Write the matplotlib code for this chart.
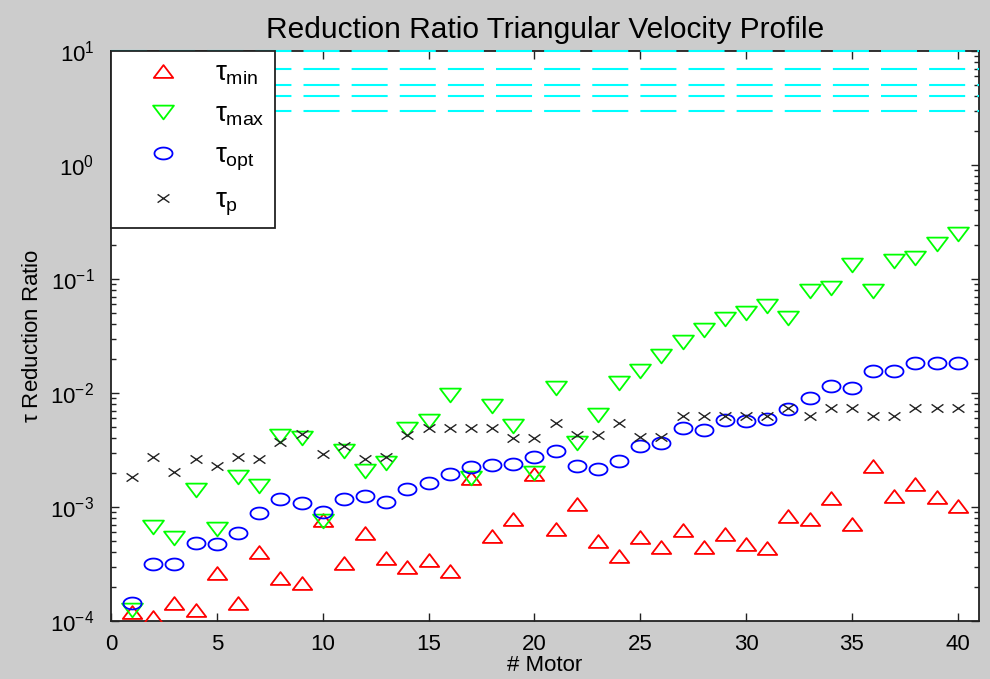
import numpy as np
import matplotlib
matplotlib.use("Agg")
import matplotlib.pyplot as plt
from matplotlib.path import Path

motor = np.arange(1, 41)

tau_min = [1.19e-4, 1.09e-4, 1.43e-4, 1.25e-4, 2.62e-4, 1.43e-4, 4.06e-4, 2.37e-4, 2.14e-4, 7.7e-4,
           3.2e-4, 5.9e-4, 3.6e-4, 2.96e-4, 3.44e-4, 2.77e-4, 1.8e-3, 5.58e-4, 7.8e-4, 1.96e-3,
           6.4e-4, 1.07e-3, 5.08e-4, 3.72e-4, 5.44e-4, 4.5e-4, 6.3e-4, 4.5e-4, 5.78e-4, 4.72e-4,
           4.35e-4, 8.37e-4, 7.83e-4, 1.21e-3, 7.12e-4, 2.27e-3, 1.25e-3, 1.59e-3, 1.22e-3, 1.03e-3]

tau_max = [1.25e-4, 6.7e-4, 5.3e-4, 1.42e-3, 6.4e-4, 1.85e-3, 1.54e-3, 4.2e-3, 4.03e-3, 7.6e-4,
           3.12e-3, 2.05e-3, 2.43e-3, 4.84e-3, 5.64e-3, 9.7e-3, 1.8e-3, 7.64e-3, 5.1e-3, 1.99e-3,
           1.11e-2, 3.65e-3, 6.46e-3, 1.23e-2, 1.55e-2, 2.1e-2, 2.79e-2, 3.6e-2, 4.42e-2, 5.06e-2,
           5.78e-2, 4.57e-2, 7.83e-2, 8.38e-2, 0.132, 7.83e-2, 0.144, 0.154, 0.201, 0.247]

tau_opt = [1.45e-4, 3.15e-4, 3.15e-4, 4.88e-4, 4.72e-4, 5.97e-4, 8.95e-4, 1.17e-3, 1.08e-3, 9.1e-4,
           1.17e-3, 1.25e-3, 1.1e-3, 1.44e-3, 1.62e-3, 1.95e-3, 2.24e-3, 2.35e-3, 2.37e-3, 2.72e-3,
           3.12e-3, 2.3e-3, 2.15e-3, 2.55e-3, 3.45e-3, 3.65e-3, 4.93e-3, 4.77e-3, 5.83e-3, 5.64e-3,
           5.92e-3, 7.25e-3, 9.06e-3, 1.16e-2, 1.11e-2, 1.55e-2, 1.55e-2, 1.84e-2, 1.84e-2, 1.84e-2]

tau_p = [1.82e-3, 2.72e-3, 2.01e-3, 2.63e-3, 2.3e-3, 2.72e-3, 2.63e-3, 3.69e-3, 4.37e-3, 2.92e-3,
         3.45e-3, 2.63e-3, 2.72e-3, 4.31e-3, 4.93e-3, 4.93e-3, 4.93e-3, 4.93e-3, 4.03e-3, 4.03e-3,
         5.46e-3, 4.31e-3, 4.31e-3, 5.46e-3, 4.08e-3, 4.08e-3, 6.24e-3, 6.24e-3, 6.3e-3, 6.24e-3,
         6.24e-3, 7.4e-3, 6.24e-3, 7.4e-3, 7.4e-3, 6.24e-3, 6.24e-3, 7.4e-3, 7.4e-3, 7.4e-3]

# horizontal reference levels drawn dashed at the top
levels = [3, 4, 5, 7, 10]

plt.rcParams['font.family'] = ['Liberation Sans', 'DejaVu Sans']
plt.rcParams['mathtext.fontset'] = 'custom'
plt.rcParams['mathtext.rm'] = 'Liberation Sans'
plt.rcParams['mathtext.it'] = 'Liberation Sans'

# flattened marker shapes (wider than tall)
sq = 0.66
tri_up = Path([(-1, -sq), (1, -sq), (0, sq), (-1, -sq)], closed=True)
tri_dn = Path([(-1, sq), (1, sq), (0, -sq), (-1, sq)], closed=True)
t = np.linspace(0, 2 * np.pi, 41)
ellipse = Path(np.column_stack([np.cos(t), sq * np.sin(t)]), closed=True)
cross = Path([(-1, -0.7), (1, 0.7), (-1, 0.7), (1, -0.7)],
             [Path.MOVETO, Path.LINETO, Path.MOVETO, Path.LINETO])

fig = plt.figure(figsize=(9.9, 6.79), dpi=100, facecolor='#cccccc')
ax = fig.add_axes([0.1121, 0.0854, 0.8768, 0.8395])
ax.set_facecolor('white')

ax.plot(motor, tau_min, linestyle='none', marker=tri_up, ms=14, mfc='none', mec='#ff0000', mew=1.3,
        label=r'$\tau_{\mathrm{min}}$', zorder=4)
ax.plot(motor, tau_max, linestyle='none', marker=tri_dn, ms=15, mfc='none', mec='#00ff00', mew=1.3,
        label=r'$\tau_{\mathrm{max}}$', zorder=4)
ax.plot(motor, tau_opt, linestyle='none', marker=ellipse, ms=13, mfc='none', mec='#0000ff', mew=1.3,
        label=r'$\tau_{\mathrm{opt}}$', zorder=4)
ax.plot(motor, tau_p, linestyle='none', marker=cross, ms=8.5, mfc='none', mec='#222222', mew=1.0,
        label=r'$\tau_{\mathrm{p}}$', zorder=4)

for lv in levels:
    ax.axhline(lv, color='#00ffff', lw=1.5, dashes=(17.3, 5.8), clip_on=False, zorder=3)

ax.set_yscale('log')
ax.set_xlim(0, 41)
ax.set_ylim(1e-4, 10)
ax.set_xticks(range(0, 41, 5))

ax.tick_params(which='both', direction='in', top=True, right=True, labelsize=16, color='#222222')
ax.tick_params(which='major', length=6, width=1)
ax.tick_params(which='minor', length=3.5, width=1)
ax.tick_params(axis='x', pad=9)
ax.tick_params(axis='y', pad=12)
for s in ax.spines.values():
    s.set_linewidth(1.3)
    s.set_color('#222222')

ax.set_title('Reduction Ratio Triangular Velocity Profile', fontsize=21.5, pad=9)
ax.set_xlabel('# Motor', fontsize=16, labelpad=0)
ax.set_ylabel(r'$\tau$ Reduction Ratio', fontsize=16, labelpad=5)

leg = ax.legend(loc='upper left', borderaxespad=0, fancybox=False, framealpha=1,
                edgecolor='#222222', fontsize=20, handlelength=3.05, handletextpad=0.34,
                labelspacing=0.52, borderpad=0.36)
leg.get_frame().set_linewidth(1.3)
leg.set_zorder(6)

fig.savefig('out.png', dpi=100, facecolor=fig.get_facecolor())
